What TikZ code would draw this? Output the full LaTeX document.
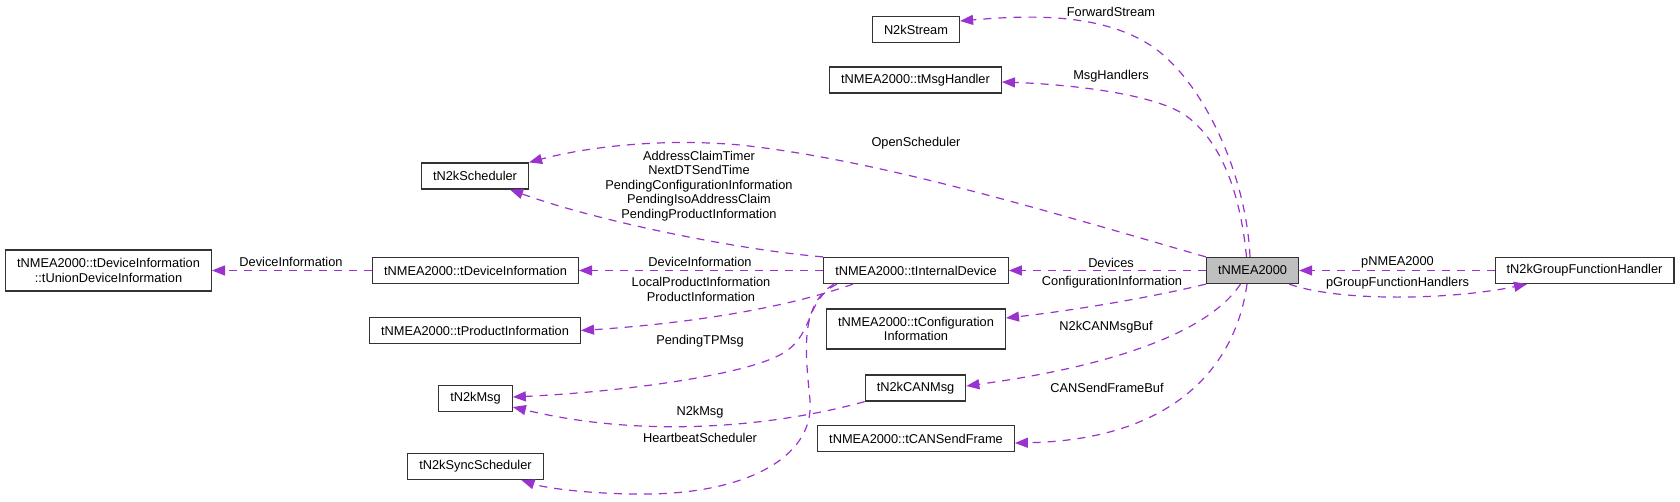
\documentclass[tikz,border=0pt]{standalone}
\usepackage{fontspec}
\setmainfont{Liberation Sans}
\usepackage{tikz}
\usetikzlibrary{arrows.meta}
\definecolor{edgepurple}{HTML}{9A32CD}
\definecolor{boxgray}{HTML}{BFBFBF}

\begin{document}
\begin{tikzpicture}[
    x=1pt, y=-1pt,
    cls/.style={draw=black!80, line width=1.2pt, fill=white, inner xsep=11.5pt, inner ysep=0pt, minimum height=26pt, align=center, font=\fontsize{12.8}{14.6}\selectfont},
    lbl/.style={inner sep=0pt, align=center, font=\fontsize{12.8}{14.6}\selectfont},
    rel/.style={-{Triangle[length=13pt, width=10pt]}, color=edgepurple, line width=1.2pt, dash pattern=on 8pt off 7pt}
]
\useasboundingbox (0,0) rectangle (1680,501);

\node[cls, fill=boxgray] (nmea) at (1252.5, 270.5) {tNMEA2000};
\node[cls] (stream) at (916, 29.5) {N2kStream};
\node[cls] (msghandler) at (915.5, 80) {tNMEA2000::tMsgHandler};
\node[cls] (scheduler) at (475, 176) {tN2kScheduler};
\node[cls, minimum height=41pt] (unioninfo) at (108.5, 270.5) {tNMEA2000::tDeviceInformation\\::tUnionDeviceInformation};
\node[cls] (devinfo) at (475.5, 270.5) {tNMEA2000::tDeviceInformation};
\node[cls] (prodinfo) at (475, 330.5) {tNMEA2000::tProductInformation};
\node[cls] (n2kmsg) at (475.5, 398.5) {tN2kMsg};
\node[cls] (syncsched) at (475.5, 466.5) {tN2kSyncScheduler};
\node[cls] (internal) at (916, 270.5) {tNMEA2000::tInternalDevice};
\node[cls, minimum height=40pt] (confinfo) at (916, 329) {tNMEA2000::tConfiguration\\Information};
\node[cls] (canmsg) at (915.5, 388) {tN2kCANMsg};
\node[cls] (sendframe) at (916, 438.5) {tNMEA2000::tCANSendFrame};
\node[cls] (groupfh) at (1584.5, 270.5) {tN2kGroupFunctionHandler};

% members of tNMEA2000
\draw[rel] ([xshift=-2.5pt]nmea.north) .. controls (1246,170) and (1200,77) .. (1150,45) .. controls (1100,13) and (1030,15) .. ([yshift=8.5pt]stream.east)
    node[lbl, text=black] at (1111, 12) {ForwardStream};
\draw[rel] ([xshift=-6pt]nmea.north) .. controls (1240,190) and (1220,140) .. (1185,115) .. controls (1150,92) and (1060,84) .. ([yshift=-2pt]msghandler.east)
    node[lbl, text=black] at (1111, 76) {MsgHandlers};
\draw[rel] (nmea.north west) .. controls (1050,212) and (880,160) .. (740,145) .. controls (650,137) and (575,150) .. (scheduler.north east)
    node[lbl, text=black] at (916, 143) {OpenScheduler};
\draw[rel] (nmea.west) -- (internal.east)
    node[lbl, text=black] at (1111, 263) {Devices};
\draw[rel] (nmea.south west) .. controls (1140,300) and (1060,312) .. ([yshift=11pt]confinfo.east)
    node[lbl, text=black] at (1112, 282) {ConfigurationInformation};
\draw[rel] ([xshift=-12pt]nmea.south) .. controls (1210,330) and (1120,365) .. ([yshift=2pt]canmsg.east)
    node[lbl, text=black] at (1106, 327) {N2kCANMsgBuf};
\draw[rel] ([xshift=-5.5pt]nmea.south) .. controls (1235,370) and (1170,440) .. ([yshift=-4.5pt]sendframe.east)
    node[lbl, text=black] at (1107, 388) {CANSendFrameBuf};
\draw[rel] ([xshift=-10pt]nmea.south east) .. controls (1340,302) and (1450,300) .. ([xshift=-57.5pt]groupfh.south)
    node[lbl, text=black] at (1397.5, 283) {pGroupFunctionHandlers};
\draw[rel] (groupfh.west) -- (nmea.east)
    node[lbl, text=black] at (1397.5, 262) {pNMEA2000};

% members of tInternalDevice
\draw[rel] (internal.north west) .. controls (740,250) and (600,222) .. ([xshift=35pt]scheduler.south)
    node[lbl, text=black] at (699, 186) {AddressClaimTimer\\NextDTSendTime\\PendingConfigurationInformation\\PendingIsoAddressClaim\\PendingProductInformation};
\draw[rel] (internal.west) -- (devinfo.east)
    node[lbl, text=black] at (700, 262) {DeviceInformation};
\draw[rel] ([xshift=-63pt]internal.south) .. controls (780,310) and (680,324) .. (prodinfo.east)
    node[lbl, text=black] at (701, 289.5) {LocalProductInformation\\ProductInformation};
\draw[rel] ([xshift=-79pt]internal.south) .. controls (805,300) and (815,332) .. (785,352) .. controls (750,375) and (620,392) .. ([yshift=1.5pt]n2kmsg.east)
    node[lbl, text=black] at (700, 341) {PendingTPMsg};
\draw[rel] ([xshift=-82pt]internal.south) .. controls (800,305) and (805,350) .. (810,400) .. controls (815,460) and (740,495) .. (640,494) .. controls (590,494) and (545,488) .. ([xshift=46pt]syncsched.south)
    node[lbl, text=black] at (700, 438) {HeartbeatScheduler};

% the rest
\draw[rel] (devinfo.west) -- (unioninfo.east)
    node[lbl, text=black] at (291, 262) {DeviceInformation};
\draw[rel] (canmsg.south west) .. controls (780,425) and (650,440) .. ([yshift=-8.5pt]n2kmsg.east)
    node[lbl, text=black] at (700, 412) {N2kMsg};
\end{tikzpicture}
\end{document}
